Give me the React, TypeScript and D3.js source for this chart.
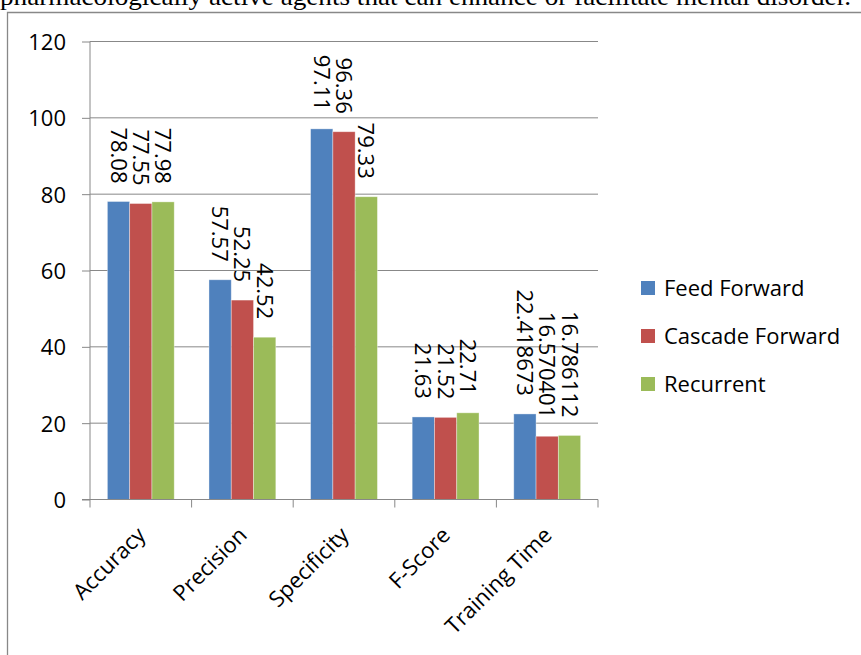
import React, { useRef, useEffect } from 'react';
import * as d3 from 'd3';

// chart values
const categories = ['Accuracy', 'Precision', 'Specificity', 'F-Score', 'Training Time'];
const seriesNames = ['Feed Forward', 'Cascade Forward', 'Recurrent'];
const feedForward = [78.08, 57.57, 97.11, 21.63, 22.418673];
const cascadeForward = [77.55, 52.25, 96.36, 21.52, 16.570401];
const recurrent = [77.98, 42.52, 79.33, 22.71, 16.786112];
const valueLabels = [
  ['78.08', '57.57', '97.11', '21.63', '22.418673'],
  ['77.55', '52.25', '96.36', '21.52', '16.570401'],
  ['77.98', '42.52', '79.33', '22.71', '16.786112'],
];
const yTicks = [0, 20, 40, 60, 80, 100, 120];
const colors = ['#4F81BD', '#C0504D', '#9BBB59'];
const caption = 'pharmacologically active agents that can enhance or facilitate mental disorder.';

const FONT = '"Open Sans", sans-serif';

const App = () => {
  const svgRef = useRef<SVGSVGElement>(null);

  useEffect(() => {
    const width = 861;
    const height = 655;
    const svg = d3.select(svgRef.current);
    svg.selectAll('*').remove();
    svg.attr('width', width).attr('height', height);

    svg.append('rect').attr('width', width).attr('height', height).attr('fill', '#fff');

    // caption text cut at the top
    svg.append('text')
      .attr('x', 0)
      .attr('y', 5)
      .attr('font-family', '"Liberation Serif", serif')
      .attr('font-size', 25)
      .attr('textLength', 851)
      .attr('lengthAdjust', 'spacingAndGlyphs')
      .text(caption);

    // frame
    svg.append('path')
      .attr('d', 'M7.5,655 V12.5 H861')
      .attr('fill', 'none')
      .attr('stroke', '#888')
      .attr('stroke-width', 1.3);

    const series = [feedForward, cascadeForward, recurrent];

    const x = d3.scaleBand().domain(categories).range([90, 598]).paddingInner(0).paddingOuter(0);
    const x1 = d3.scaleBand().domain(seriesNames).range([0, x.bandwidth()]).paddingOuter(0.78).paddingInner(0);
    const y = d3.scaleLinear().domain([0, 120]).range([499.5, 41.5]);

    // gridlines
    svg.append('g').selectAll('line')
      .data(yTicks.filter(t => t > 0))
      .enter().append('line')
      .attr('x1', 90).attr('x2', 598)
      .attr('y1', d => y(d)).attr('y2', d => y(d))
      .attr('stroke', '#888').attr('stroke-width', 1);

    // bars
    series.forEach((vals, si) => {
      svg.append('g').selectAll('rect')
        .data(vals)
        .enter().append('rect')
        .attr('x', (d, i) => (x(categories[i]) as number) + (x1(seriesNames[si]) as number))
        .attr('y', d => y(d))
        .attr('width', x1.bandwidth())
        .attr('height', d => y(0) - y(d))
        .attr('fill', colors[si])
        .attr('stroke', 'rgba(255,255,255,0.45)')
        .attr('stroke-width', 0.8);
    });

    // y axis
    const yAxis = svg.append('g').attr('transform', 'translate(90,0)')
      .call(d3.axisLeft(y).tickValues(yTicks).tickSize(8).tickPadding(0).tickFormat(d3.format('d')));
    yAxis.select('.domain').attr('stroke', '#888').attr('d', `M0,${y(120)}V${y(0)}`);
    yAxis.selectAll('.tick line').attr('stroke', '#888');
    yAxis.selectAll('.tick text')
      .attr('x', -24)
      .attr('dy', '0.36em')
      .attr('font-family', FONT)
      .attr('font-size', 22)
      .attr('fill', '#000');

    // x axis
    const xAxisG = svg.append('g').attr('transform', `translate(0,${y(0)})`);
    xAxisG.append('line').attr('x1', 82).attr('x2', 598).attr('stroke', '#888');
    const bounds = categories.map(c => x(c) as number).concat([598]);
    xAxisG.selectAll('line.tk')
      .data(bounds)
      .enter().append('line')
      .attr('class', 'tk')
      .attr('x1', d => d).attr('x2', d => d)
      .attr('y1', 0).attr('y2', 8)
      .attr('stroke', '#888');

    // category labels
    svg.append('g').selectAll('text')
      .data(categories)
      .enter().append('text')
      .attr('transform', d => `translate(${(x(d) as number) + x.bandwidth() / 2 + 6},${y(0) + 37}) rotate(-45)`)
      .attr('text-anchor', 'end')
      .attr('font-family', FONT)
      .attr('font-size', 22)
      .attr('fill', '#000')
      .text(d => d);

    // data labels
    series.forEach((vals, si) => {
      svg.append('g').selectAll('text')
        .data(vals)
        .enter().append('text')
        .attr('transform', (d, i) => {
          const cx = (x(categories[i]) as number) + (x1(seriesNames[si]) as number) + x1.bandwidth() / 2;
          return `translate(${cx},${y(d) - 18}) rotate(90)`;
        })
        .attr('text-anchor', 'end')
        .attr('dy', '0.36em')
        .attr('font-family', FONT)
        .attr('font-size', 22)
        .attr('fill', '#000')
        .text((d, i) => valueLabels[si][i]);
    });

    // legend
    const legend = svg.append('g').attr('transform', 'translate(641,288)');
    seriesNames.forEach((name, i) => {
      const g = legend.append('g').attr('transform', `translate(0,${i * 48})`);
      g.append('rect').attr('x', 0).attr('y', -7).attr('width', 14).attr('height', 14).attr('fill', colors[i]);
      g.append('text')
        .attr('x', 23)
        .attr('dy', '0.36em')
        .attr('font-family', FONT)
        .attr('font-size', 22)
        .attr('fill', '#000')
        .text(name);
    });
  }, []);

  return (
    <svg ref={svgRef} style={{ position: 'absolute', left: 0, top: 0 }}></svg>
  );
};

export default App;
